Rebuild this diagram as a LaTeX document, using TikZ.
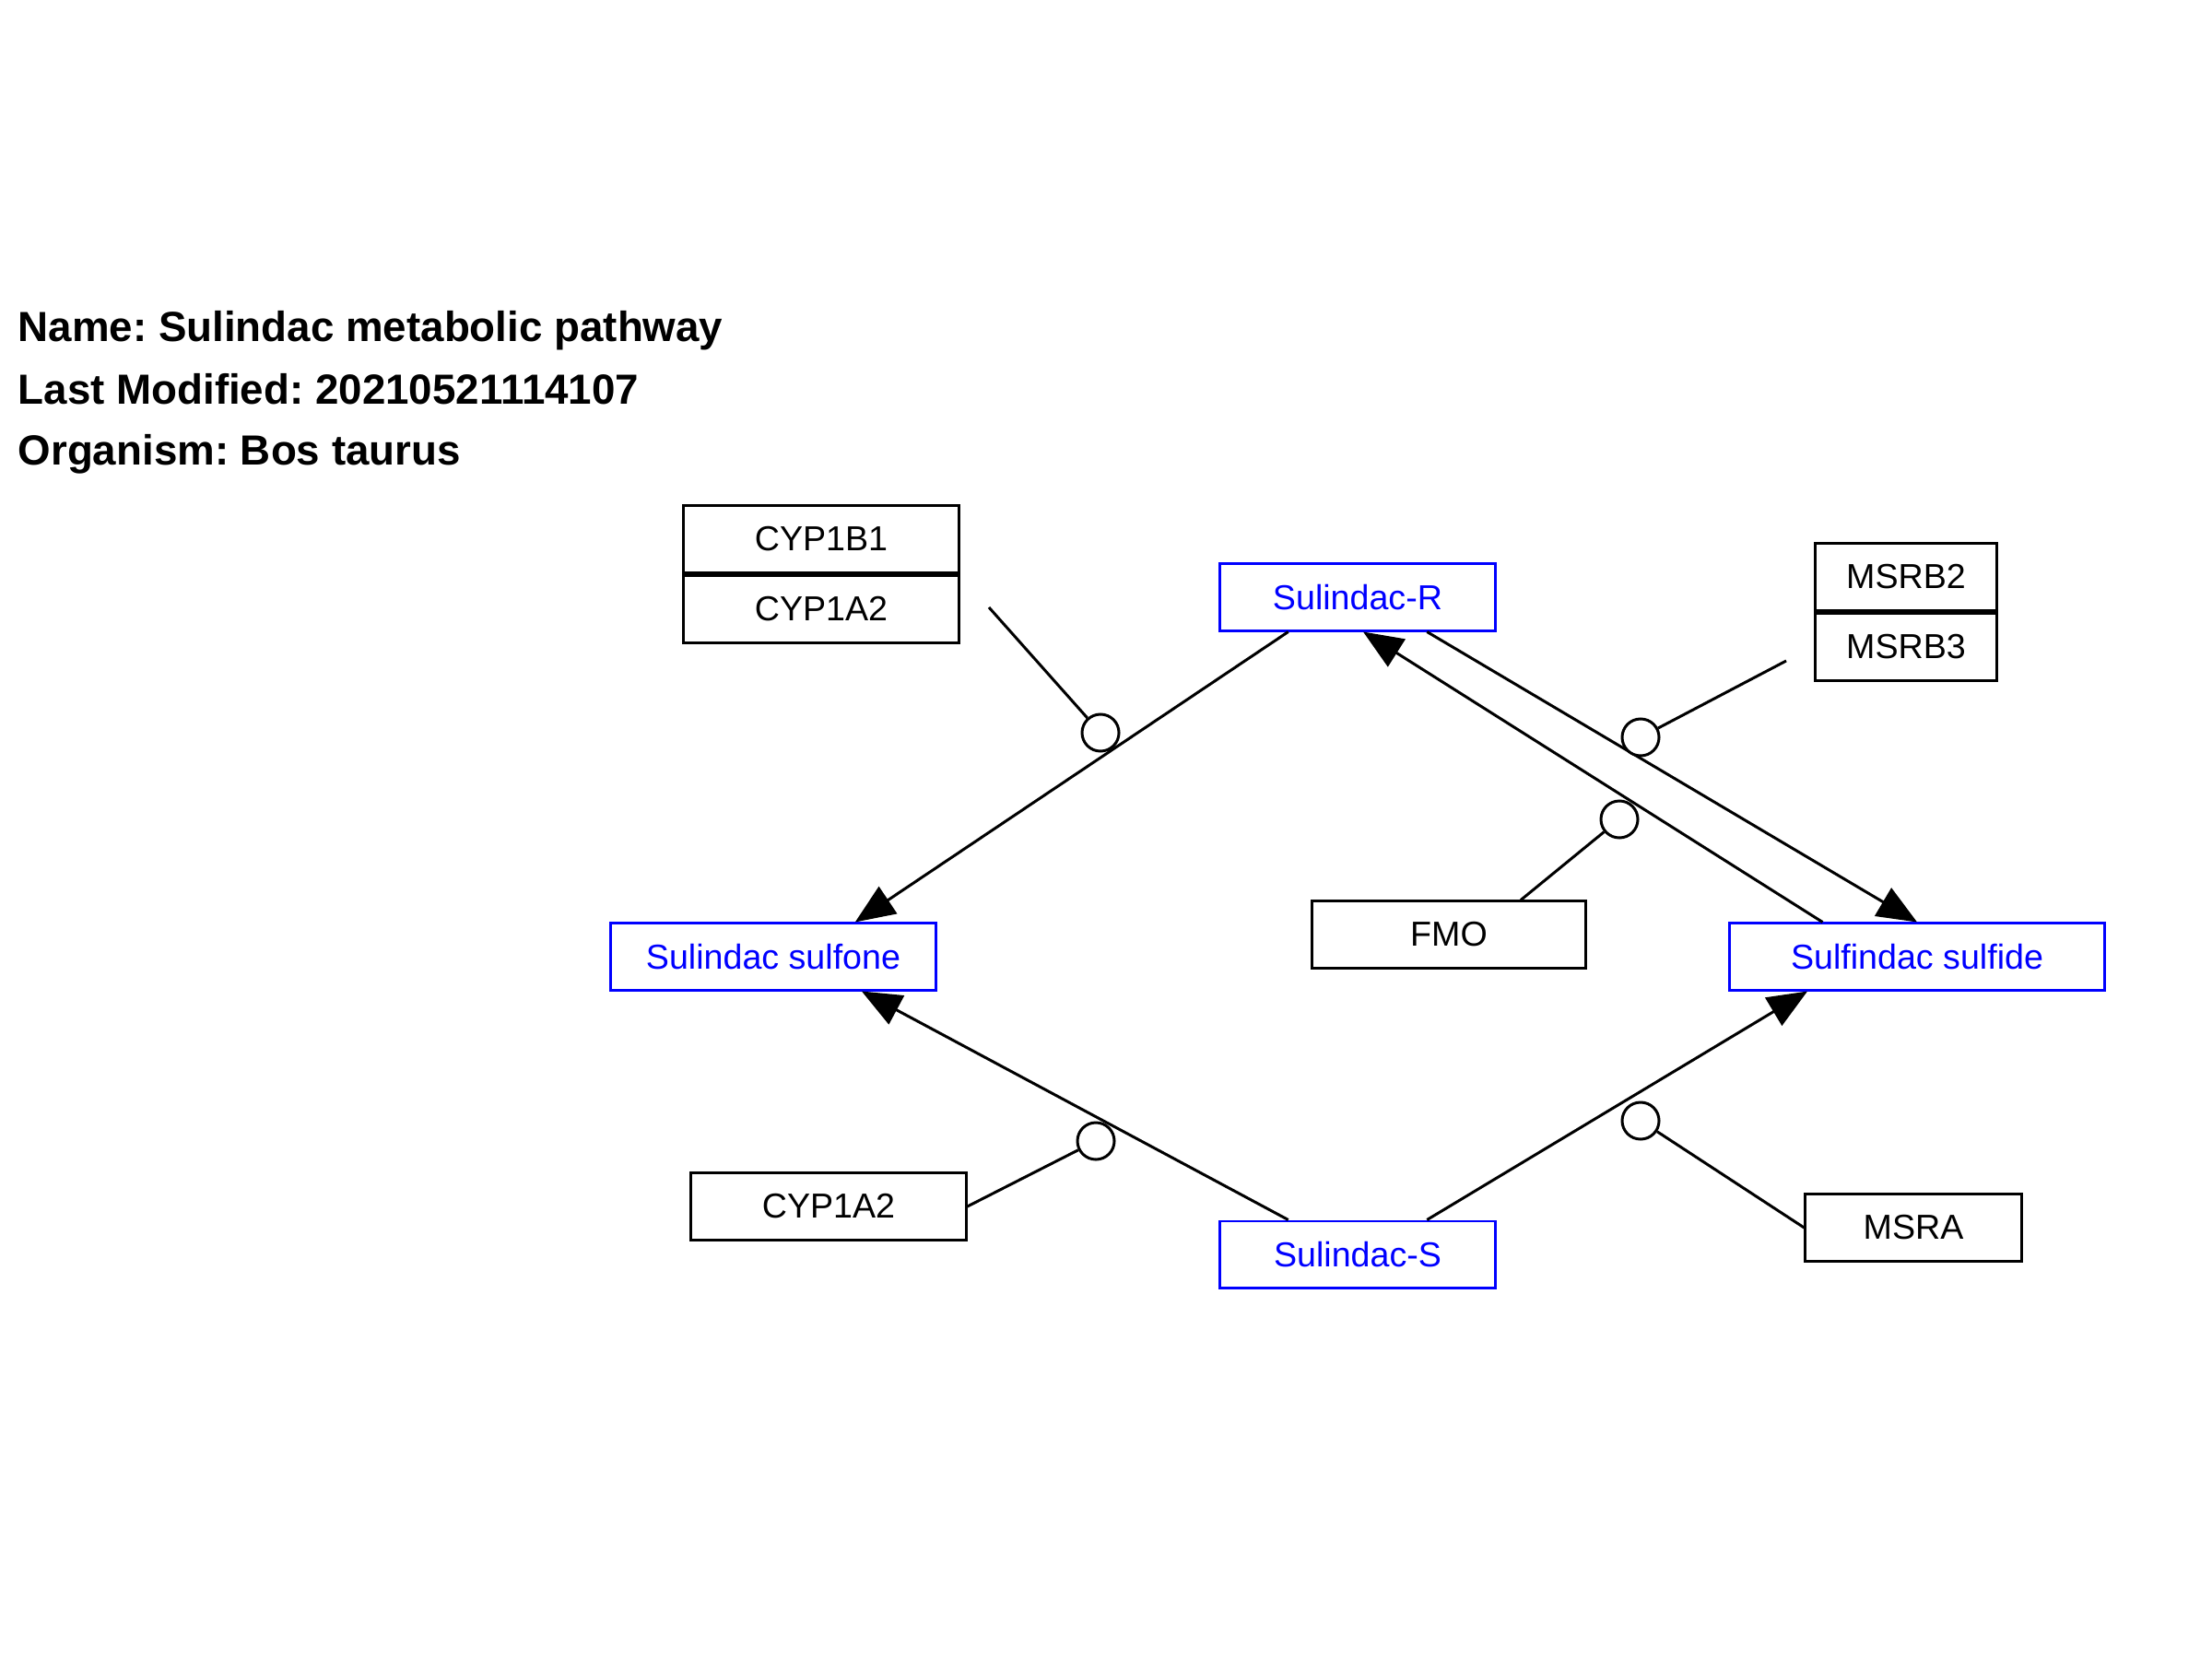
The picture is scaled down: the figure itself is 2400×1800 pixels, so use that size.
\documentclass[tikz,border=0pt]{standalone}
\usepackage{fontspec}
\setmainfont{Liberation Sans}
\usetikzlibrary{arrows.meta, positioning, calc}
\frenchspacing

\begin{document}
\begin{tikzpicture}[
  x=0.01cm, y=-0.01cm,
  font=\fontsize{10.7}{13}\selectfont,
  gene/.style={draw, line width=0.85pt, minimum height=0.73cm, inner sep=0pt},
  metab/.style={draw=blue, text=blue, line width=0.85pt, minimum height=0.72cm, inner sep=0pt},
  conv/.style={line width=0.85pt, -{Triangle[length=0.43cm, width=0.35cm]}},
  cat/.style={line width=0.85pt},
  modcirc/.style={circle, draw, fill=white, line width=0.85pt, minimum size=0.4cm, inner sep=0pt},
  titletext/.style={anchor=base west, inner sep=0pt, font=\fontsize{13}{16}\selectfont\bfseries},
]
\useasboundingbox (0,0) rectangle (2400,1800);
\node[titletext] (tname) at (19,370) {Name: Sulindac metabolic pathway};
\node[titletext] (tmod) at (19,438) {Last Modified: 20210521114107};
\node[titletext] (torg) at (19,504) {Organism: Bos taurus};

\node[metab, minimum width=2.98cm] (sr) at (1473,648) {Sulindac-R};
\node[metab, minimum width=3.52cm] (sulfone) at (839,1038) {Sulindac sulfone};
\node[metab, minimum width=4.07cm] (sulfide) at (2080,1038) {Sulfindac sulfide};
\node[metab, minimum width=2.98cm] (ss) at (1473,1361) {Sulindac-S};

\node[gene, minimum width=2.99cm] (cyp1b1) at (891,585) {CYP1B1};
\node[gene, minimum width=2.99cm, below=0pt of cyp1b1] (cyp1a2top) {CYP1A2};
\node[gene, minimum width=1.97cm] (msrb2) at (2068,626) {MSRB2};
\node[gene, minimum width=1.97cm, below=0pt of msrb2] (msrb3) {MSRB3};
\node[gene, minimum width=2.97cm, minimum height=0.72cm] (fmo) at (1572,1014) {FMO};
\node[gene, minimum width=2.98cm, minimum height=0.72cm] (cyp1a2bot) at (899,1309) {CYP1A2};
\node[gene, minimum width=2.34cm, minimum height=0.72cm] (msra) at (2076,1332) {MSRA};

\draw[conv] ($(sr.south west)!0.25!(sr.south east)$) -- ($(sulfone.north west)!0.75!(sulfone.north east)$);
\draw[conv] ($(sulfide.north west)!0.25!(sulfide.north east)$) -- ($(sr.south west)!0.52!(sr.south east)$);
\draw[conv] ($(sr.south west)!0.75!(sr.south east)$) -- ($(sulfide.north west)!0.5!(sulfide.north east)$);
\draw[conv] ($(ss.north west)!0.25!(ss.north east)$) -- ($(sulfone.south west)!0.77!(sulfone.south east)$);
\draw[conv] ($(ss.north west)!0.75!(ss.north east)$) -- ($(sulfide.south west)!0.21!(sulfide.south east)$);

\node[modcirc] (c1) at (1194,795) {};
\node[modcirc] (c2) at (1780,800) {};
\node[modcirc] (c3) at (1757,889) {};
\node[modcirc] (c4) at (1189,1238) {};
\node[modcirc] (c5) at (1780,1216) {};
\coordinate (cypend) at (1073,659);
\coordinate (msrbend) at (1938,717);

\draw[cat] (cypend) -- (c1);
\draw[cat] (msrbend) -- (c2);
\draw[cat] ($(fmo.north west)!0.76!(fmo.north east)$) -- (c3);
\draw[cat] (cyp1a2bot.east) -- (c4);
\draw[cat] (msra.west) -- (c5);
\end{tikzpicture}
\end{document}
